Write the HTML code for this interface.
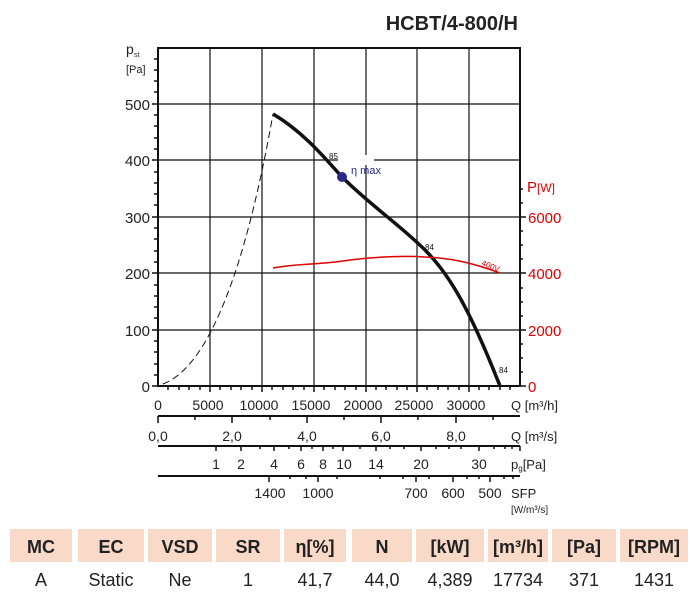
<!DOCTYPE html>
<html><head><meta charset="utf-8"><style>
body{margin:0;background:#fff;width:697px;height:597px;overflow:hidden;font-family:"Liberation Sans",Arial,sans-serif}
</style></head><body>
<svg width="697" height="597" viewBox="0 0 697 597" xmlns="http://www.w3.org/2000/svg" font-family="Liberation Sans, Arial, sans-serif">
<text x="518" y="30" text-anchor="end" font-size="20" font-weight="bold" fill="#222">HCBT/4-800/H</text>
<g stroke="#111" stroke-width="1.2">
<line x1="210" y1="48" x2="210" y2="386"/><line x1="262" y1="48" x2="262" y2="386"/>
<line x1="314" y1="48" x2="314" y2="386"/><line x1="366" y1="48" x2="366" y2="386"/>
<line x1="417" y1="48" x2="417" y2="386"/><line x1="469" y1="48" x2="469" y2="386"/>
<line x1="158" y1="104" x2="520" y2="104"/><line x1="158" y1="160" x2="520" y2="160"/>
<line x1="158" y1="217" x2="520" y2="217"/><line x1="158" y1="273" x2="520" y2="273"/>
<line x1="158" y1="330" x2="520" y2="330"/>
</g>
<rect x="158" y="48" width="362" height="338" fill="none" stroke="#111" stroke-width="2"/>
<g stroke="#111" stroke-width="1.5">
<path d="M158 115h-4M158 126h-4M158 138h-4M158 149h-4M158 172h-4M158 183h-4M158 194h-4M158 205h-4M158 228h-4M158 239h-4M158 251h-4M158 262h-4M158 285h-4M158 296h-4M158 307h-4M158 318h-4M158 341h-4M158 352h-4M158 364h-4M158 375h-4M158 59h-4M158 70h-4M158 81h-4M158 92h-4M158 104h-6M158 160h-6M158 217h-6M158 273h-6M158 330h-6M158 386h-6"/>
<path d="M520 386h6M520 330h6M520 273h6M520 217h6M520 358h3M520 302h3M520 245h3M520 189h3M520 372h3M520 344h3M520 316h3M520 288h3M520 259h3M520 231h3M520 203h3"/>
<path d="M168 386v4M179 386v4M189 386v4M200 386v4M220 386v4M231 386v4M241 386v4M252 386v4M272 386v4M283 386v4M293 386v4M304 386v4M324 386v4M335 386v4M345 386v4M356 386v4M376 386v4M386 386v4M397 386v4M407 386v4M427 386v4M438 386v4M448 386v4M459 386v4M479 386v4M489 386v4M500 386v4M510 386v4M210 386v6M262 386v6M314 386v6M366 386v6M417 386v6M469 386v6"/>
</g>
<g font-size="15" fill="#222" text-anchor="end">
<text x="150" y="110">500</text><text x="150" y="166">400</text><text x="150" y="223">300</text>
<text x="150" y="279">200</text><text x="150" y="336">100</text><text x="150" y="392">0</text>
</g>
<text x="126" y="54" font-size="14" fill="#222">p</text><text x="134" y="57" font-size="7" fill="#222">st</text>
<text x="126" y="73" font-size="11" fill="#222">[Pa]</text>
<g font-size="15" fill="#d00" text-anchor="start">
<text x="528" y="223">6000</text><text x="528" y="279">4000</text><text x="528" y="336">2000</text><text x="528" y="392">0</text>
</g>
<text x="527" y="192" font-size="15" fill="#d00">P<tspan font-size="12">[W]</tspan></text>
<!-- curves -->
<path d="M163 384 C200 370 240 300 273 114" fill="none" stroke="#111" stroke-width="1" stroke-dasharray="7,4"/>
<path d="M273 114 C300 130 320 152 341 176 C370 205 400 225 425 250 C450 275 470 310 500 386" fill="none" stroke="#111" stroke-width="3.5"/>
<path d="M273 268 C300 263 320 265 350 260 C380 256 410 256 425 257 C450 258 470 262 500 273" fill="none" stroke="#d00" stroke-width="1.5"/>
<rect x="338" y="155" width="36" height="10" fill="#fff"/>
<text x="329" y="159" font-size="8" fill="#111">85</text>
<circle cx="342" cy="177" r="5" fill="#2b2a8a"/>
<text x="351" y="174" font-size="11" fill="#2b2a8a">η max</text>
<text x="425" y="250" font-size="8" fill="#111">84</text>
<text x="499" y="373" font-size="8" fill="#111">84</text>
<text x="481" y="265" font-size="8" fill="#d00" transform="rotate(22 481 265)">400V</text>
<!-- bottom axes -->
<g font-size="14" fill="#222" text-anchor="middle">
<text x="158" y="410">0</text><text x="208" y="410">5000</text><text x="259" y="410">10000</text>
<text x="311" y="410">15000</text><text x="363" y="410">20000</text><text x="414" y="410">25000</text><text x="466" y="410">30000</text>
</g>
<text x="511" y="410" font-size="13" fill="#222">Q [m³/h]</text>
<g stroke="#111"><line x1="158" y1="416" x2="520" y2="416" stroke-width="2"/>
<path d="M158 416v7M195 416v4M232 416v7M270 416v4M307 416v7M344 416v4M381 416v7M418 416v4M456 416v7M493 416v4" stroke-width="1.5"/></g>
<g font-size="14" fill="#222" text-anchor="middle">
<text x="158" y="441">0,0</text><text x="232" y="441">2,0</text><text x="307" y="441">4,0</text><text x="381" y="441">6,0</text><text x="456" y="441">8,0</text>
</g>
<text x="511" y="441" font-size="13" fill="#222">Q [m³/s]</text>
<g stroke="#111"><line x1="158" y1="446" x2="520" y2="446" stroke-width="2"/>
<path d="M216 446v5M241 446v5M260 446v3M274 446v5M289 446v3M301 446v5M312 446v3M323 446v5M333 446v3M343 446v5M360 446v3M376 446v5M390 446v3M404 446v3M421 446v5M436 446v3M449 446v3M461 446v3M479 446v5M494 446v3M505 446v3M512 446v3M520 446v5" stroke-width="1.5"/></g>
<g font-size="14" fill="#222" text-anchor="middle">
<text x="216" y="469">1</text><text x="241" y="469">2</text><text x="274" y="469">4</text><text x="301" y="469">6</text>
<text x="323" y="469">8</text><text x="344" y="469">10</text><text x="376" y="469">14</text><text x="421" y="469">20</text><text x="479" y="469">30</text>
</g>
<text x="511" y="469" font-size="13" fill="#222">p<tspan font-size="8" dy="2">g</tspan><tspan dy="-2">[Pa]</tspan></text>
<g stroke="#111"><line x1="158" y1="476" x2="520" y2="476" stroke-width="2"/>
<path d="M269 476v6M290 476v3M306 476v3M318 476v6M337 476v3M380 476v3M403 476v3M416 476v6M429 476v3M453 476v6M467 476v3M479 476v3M490 476v6M504 476v3M513 476v3" stroke-width="1.5"/></g>
<g font-size="14" fill="#222" text-anchor="middle">
<text x="270" y="498">1400</text><text x="318" y="498">1000</text><text x="416" y="498">700</text><text x="453" y="498">600</text><text x="490" y="498">500</text>
</g>
<text x="511" y="498" font-size="13" fill="#222">SFP</text>
<text x="511" y="513" font-size="10" fill="#222">[W/m³/s]</text>
<!-- table -->
<g fill="#f9d9c8">
<rect x="10" y="529" width="62" height="33"/><rect x="78" y="529" width="66" height="33"/><rect x="148" y="529" width="64" height="33"/>
<rect x="216" y="529" width="64" height="33"/><rect x="284" y="529" width="62" height="33"/><rect x="352" y="529" width="60" height="33"/>
<rect x="416" y="529" width="68" height="33"/><rect x="488" y="529" width="60" height="33"/><rect x="552" y="529" width="64" height="33"/>
<rect x="620" y="529" width="68" height="33"/>
</g>
<g font-size="18" font-weight="bold" fill="#222" text-anchor="middle">
<text x="41" y="553">MC</text><text x="111" y="553">EC</text><text x="180" y="553">VSD</text><text x="248" y="553">SR</text>
<text x="315" y="553">η[%]</text><text x="382" y="553">N</text><text x="450" y="553">[kW]</text><text x="518" y="553">[m³/h]</text>
<text x="584" y="553">[Pa]</text><text x="654" y="553">[RPM]</text>
</g>
<g font-size="18" fill="#222" text-anchor="middle">
<text x="41" y="586">A</text><text x="111" y="586">Static</text><text x="180" y="586">Ne</text><text x="248" y="586">1</text>
<text x="315" y="586">41,7</text><text x="382" y="586">44,0</text><text x="450" y="586">4,389</text><text x="518" y="586">17734</text>
<text x="584" y="586">371</text><text x="654" y="586">1431</text>
</g>
</svg>
</body></html>
